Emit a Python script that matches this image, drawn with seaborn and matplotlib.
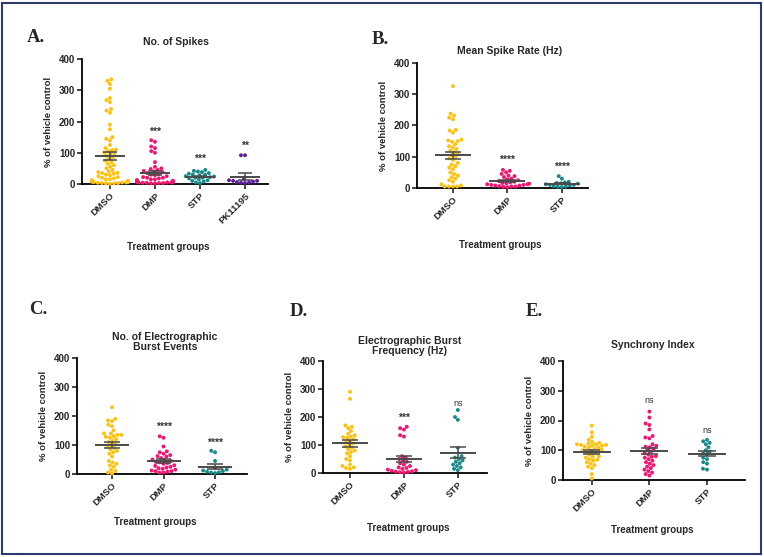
import numpy as np
import pandas as pd
import seaborn as sns
import matplotlib.pyplot as plt
from matplotlib.patches import Rectangle

sns.set_theme(style="ticks")
plt.rcParams['font.family'] = ['Liberation Sans', 'DejaVu Sans']

W, H = 764, 557

# values (% of vehicle control)
spikes_dmso = [335, 330, 320, 305, 275, 268, 262, 240, 235, 228, 190, 175, 150, 145, 140, 125,
               115, 110, 108, 105, 100, 98, 95, 90, 85, 80, 75, 70, 65, 60, 55, 50, 45, 40, 38,
               36, 35, 33, 30, 28, 25, 22, 20, 18, 15, 15, 12, 12, 10, 10, 8, 8, 6, 6, 5, 5, 4,
               3, 3, 2, 2, 1]
spikes_dmp = [140, 135, 120, 115, 105, 100, 70, 55, 50, 48, 45, 42, 40, 38, 35, 32, 30, 28, 25,
              22, 20, 20, 18, 15, 15, 12, 12, 10, 10, 8, 8, 6, 5, 5, 4, 3, 2, 3, 4, 6, 7, 2, 5]
spikes_stp = [45, 42, 40, 38, 35, 33, 30, 30, 28, 25, 24, 22, 20, 20, 18, 15, 12, 10, 8, 5, 3]
spikes_pk = [92, 92, 15, 12, 10, 10, 8, 6, 5, 4, 3]

rate_dmso = [326, 238, 232, 225, 220, 186, 184, 177, 155, 152, 150, 148, 140, 134, 130, 125, 120,
             115, 110, 105, 100, 95, 90, 80, 75, 70, 65, 60, 50, 45, 40, 35, 30, 25, 20, 12, 8,
             5, 5, 5, 5]
rate_dmp = [58, 55, 50, 45, 40, 38, 35, 30, 28, 25, 22, 20, 18, 16, 15, 14, 12, 12, 10, 10, 8, 8,
            6, 5, 5, 4, 3]
rate_stp = [38, 30, 20, 18, 16, 15, 14, 12, 10, 10, 8, 6, 5, 4, 3]

burst_dmso = [230, 190, 185, 182, 170, 165, 150, 140, 135, 130, 128, 125, 120, 115, 110, 105, 100,
              95, 90, 85, 80, 75, 70, 60, 45, 40, 35, 30, 25, 15, 10, 5, 2, 140, 135]
burst_dmp = [130, 125, 95, 78, 75, 70, 65, 62, 60, 55, 50, 48, 45, 42, 40, 38, 35, 30, 28, 25, 22,
             20, 18, 15, 12, 10, 10, 8, 5, 5]
burst_stp = [80, 75, 45, 20, 15, 12, 10, 8, 6, 5, 3]

freq_dmso = [290, 265, 170, 165, 160, 150, 140, 135, 130, 128, 125, 120, 115, 110, 105, 100, 95,
             90, 85, 80, 75, 70, 60, 50, 45, 30, 25, 20, 18, 15]
freq_dmp = [165, 160, 155, 135, 130, 60, 55, 50, 45, 40, 35, 30, 25, 20, 18, 15, 12, 10, 8, 6, 5,
            3, 2, 4]
freq_stp = [225, 200, 190, 90, 60, 55, 50, 45, 40, 35, 30, 25, 20, 15, 10]

sync_dmso = [183, 160, 145, 135, 128, 125, 122, 120, 120, 118, 118, 115, 115, 112, 110, 108, 105,
             102, 100, 98, 95, 92, 90, 85, 80, 78, 75, 70, 68, 65, 60, 55, 50, 45, 40, 20, 5]
sync_dmp = [230, 210, 190, 185, 170, 148, 143, 140, 120, 115, 112, 110, 105, 100, 95, 90, 85, 80,
            78, 75, 70, 65, 60, 55, 50, 45, 40, 35, 30, 25, 20, 15]
sync_stp = [135, 130, 125, 120, 110, 100, 95, 90, 85, 75, 70, 60, 55, 38, 35]

groups3 = ["DMSO", "DMP", "STP"]
groups4 = ["DMSO", "DMP", "STP", "PK11195"]
palette = {"DMSO": "#FFC10E", "DMP": "#F2156F", "STP": "#17898A", "PK11195": "#5B1E9A"}
mean_col = "#4a4a4a"

panels = [
    # letter, title, groups, values, significance, axes box (px), xlim, letter pos, title pos, xlabel pos
    ("A.", "No. of Spikes", groups4, [spikes_dmso, spikes_dmp, spikes_stp, spikes_pk],
     ["", "***", "***", "**"], [167, 82, 121], (82, 59, 268, 184), (-0.62, 3.51),
     (36, 37), (176, 42), (168, 247)),
    ("B.", "Mean Spike Rate (Hz)", groups3, [rate_dmso, rate_dmp, rate_stp],
     ["", "****", "****"], [90, 68], (417, 63, 588, 188), (-0.66, 2.48),
     (380, 40), (510, 51), (500, 245)),
    ("C.", "No. of Electrographic\nBurst Events", groups3, [burst_dmso, burst_dmp, burst_stp],
     ["", "****", "****"], [164, 107], (77, 358, 247, 474), (-0.68, 2.62),
     (38, 310), (165, 342), (155, 522)),
    ("D.", "Electrographic Burst\nFrequency (Hz)", groups3, [freq_dmso, freq_dmp, freq_stp],
     ["", "***", "ns"], [198, 250], (323, 361, 487, 473), (-0.5, 2.54),
     (299, 311), (410, 346), (408, 528)),
    ("E.", "Synchrony Index", groups3, [sync_dmso, sync_dmp, sync_stp],
     ["", "ns", "ns"], [268, 166], (563, 361, 745, 480), (-0.5, 2.66),
     (534, 312), (653, 345), (652, 530)),
]

fig = plt.figure(figsize=(W / 100, H / 100), dpi=100)


def px(x, y):
    return x / W, 1 - y / H


for letter, title, groups, values, sig, sig_y, box, xlim, lpos, tpos, xlpos in panels:
    x0, y0, x1, y1 = box
    ax = fig.add_axes([x0 / W, 1 - y1 / H, (x1 - x0) / W, (y1 - y0) / H])
    df = pd.DataFrame({"group": np.repeat(groups, [len(v) for v in values]),
                       "value": np.concatenate(values)})
    sns.swarmplot(data=df, x="group", y="value", hue="group", order=groups, palette=palette,
                  size=2.8, linewidth=0, legend=False, warn_thresh=1, clip_on=False, ax=ax)

    # mean +/- SEM
    for i, v in enumerate(values):
        v = np.asarray(v, dtype=float)
        m = v.mean()
        se = v.std(ddof=1) / np.sqrt(len(v))
        ax.hlines(m, i - 0.33, i + 0.33, color=mean_col, lw=1.4, zorder=5)
        ax.hlines([m - se, m + se], i - 0.15, i + 0.15, color=mean_col, lw=1.1, zorder=5)
        ax.vlines(i, m - se, m + se, color=mean_col, lw=1.1, zorder=5)

    s_iter = iter(sig_y)
    for i, s in enumerate(sig):
        if s:
            ax.text(i, next(s_iter), s, ha="center", va="center",
                    fontsize=7.5 if s != "ns" else 6.5, color="#333333",
                    fontweight="bold" if s != "ns" else "normal")

    ax.set_xlim(*xlim)
    ax.set_ylim(0, 400)
    ax.set_yticks([0, 100, 200, 300, 400])
    ax.set_xlabel("")
    ax.set_ylabel("% of vehicle control", fontsize=6.8, fontweight="bold", labelpad=4)
    ax.tick_params(axis="both", labelsize=7, width=1.2, length=3.5, pad=1.5)
    for lab in ax.get_yticklabels():
        lab.set_fontweight("bold")
    ax.set_xticks(range(len(groups)))
    ax.set_xticklabels(groups, rotation=45, ha="right", rotation_mode="anchor",
                       fontsize=6.8, fontweight="bold")
    sns.despine(ax=ax)
    for sp in ("left", "bottom"):
        ax.spines[sp].set_linewidth(1.3)
        ax.spines[sp].set_color("black")

    fig.text(*px(*lpos), letter, ha="center", va="center", fontsize=13.5, fontweight="bold",
             family=["Liberation Serif", "DejaVu Serif"])
    fig.text(*px(*tpos), title, ha="center", va="center", fontsize=7.5, fontweight="bold",
             linespacing=1.1)
    fig.text(*px(*xlpos), "Treatment groups", ha="center", va="center", fontsize=7,
             fontweight="bold")

fig.patches.append(Rectangle((2 / W, 3 / H), 759 / W, 551 / H, transform=fig.transFigure,
                             fill=False, edgecolor="#2C3A6E", lw=1.5))

fig.savefig("out.png", dpi=100)
